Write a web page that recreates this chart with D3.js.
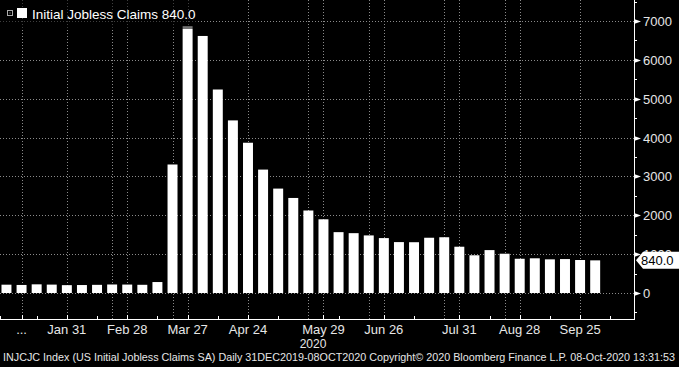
<!DOCTYPE html>
<html>
<head>
<meta charset="utf-8">
<script src="https://d3js.org/d3.v7.min.js"></script>
<style>
  html, body { margin: 0; padding: 0; background: #000; }
  svg { display: block; font-family: "Liberation Sans", Arial, sans-serif; }
  .grid line { stroke: #8a8a8a; stroke-width: 1; stroke-dasharray: 1,2; }
  .bar { fill: #fff; }
  .tick-label { fill: #e6e6e6; font-size: 13px; }
</style>
</head>
<body>
<div id="chart"></div>
<script>
// weekly claims, thousands (week dates as Bloomberg stamps them)
var weekDates = ["2020-01-03","2020-01-10","2020-01-17","2020-01-24","2020-01-31",
  "2020-02-07","2020-02-14","2020-02-21","2020-02-28","2020-03-06","2020-03-13",
  "2020-03-20","2020-03-27","2020-04-03","2020-04-10","2020-04-17","2020-04-24",
  "2020-05-01","2020-05-08","2020-05-15","2020-05-22","2020-05-29","2020-06-05",
  "2020-06-12","2020-06-19","2020-06-26","2020-07-03","2020-07-10","2020-07-17",
  "2020-07-24","2020-07-31","2020-08-07","2020-08-14","2020-08-21","2020-08-28",
  "2020-09-04","2020-09-11","2020-09-18","2020-09-25","2020-10-02"];
var claims = [214, 207, 223, 216, 202, 205, 210, 219, 217, 211, 282,
  3307, 6867, 6615, 5237, 4442, 3867, 3176, 2687, 2446, 2123, 1897, 1566,
  1540, 1482, 1413, 1310, 1307, 1422, 1435, 1191, 971, 1104, 1011, 881,
  893, 866, 873, 849, 840];

var labelDates = ["2020-01-10","2020-01-31","2020-02-28","2020-03-27","2020-04-24",
  "2020-05-29","2020-06-26","2020-07-31","2020-08-28","2020-09-25"];
var labelTexts = ["...","Jan 31","Feb 28","Mar 27","Apr 24","May 29","Jun 26","Jul 31","Aug 28","Sep 25"];
var gridDates = ["2020-01-10","2020-01-31","2020-02-21","2020-02-28","2020-03-20","2020-03-27",
  "2020-04-24","2020-05-22","2020-05-29","2020-06-19","2020-06-26","2020-07-24","2020-07-31",
  "2020-08-21","2020-08-28","2020-09-25"];
var minorDates = ["2019-12-31","2020-01-17","2020-02-14","2020-03-13","2020-04-10","2020-05-08",
  "2020-06-05","2020-07-10","2020-08-14","2020-09-11","2020-10-09"];
var yTicks = [0, 1000, 2000, 3000, 4000, 5000, 6000, 7000];
var yMinor = [-500, 500, 1500, 2500, 3500, 4500, 5500, 6500, 7500];
var lastValue = 840.0;

var parse = d3.timeParse("%Y-%m-%d");
var data = weekDates.map(function(d, i) { return {date: parse(d), y: claims[i]}; });

var W = 679, H = 367;
var axisX = 634, axisY = 319;

var x = d3.scaleTime()
    .domain([parse("2019-12-31"), parse("2020-10-20")])
    .range([0, axisX]);
var y = d3.scaleLinear()
    .domain([0, 7000])
    .range([293, 21]);

var svg = d3.select("#chart").append("svg")
    .attr("width", W)
    .attr("height", H);

svg.append("rect").attr("width", W).attr("height", H).attr("fill", "#000");

// grid
var grid = svg.append("g").attr("class", "grid");
grid.selectAll(".hg")
    .data(yTicks)
    .enter().append("line")
    .attr("x1", 0).attr("x2", axisX)
    .attr("y1", function(d) { return Math.round(y(d)) + 0.5; })
    .attr("y2", function(d) { return Math.round(y(d)) + 0.5; });
grid.selectAll(".vg")
    .data(gridDates)
    .enter().append("line")
    .attr("x1", function(d) { return Math.round(x(parse(d))) + 0.5; })
    .attr("x2", function(d) { return Math.round(x(parse(d))) + 0.5; })
    .attr("y1", 0).attr("y2", axisY);

// bars
var halfWeek = 3.5 * 0.66 * 864e5;
svg.selectAll(".bar")
    .data(data)
    .enter().append("rect")
    .attr("class", "bar")
    .attr("x", function(d) { return x(new Date(+d.date - halfWeek)); })
    .attr("width", function(d) { return x(new Date(+d.date + halfWeek)) - x(new Date(+d.date - halfWeek)); })
    .attr("y", function(d) { return y(d.y); })
    .attr("height", function(d) { return y(0) - y(d.y); });

// axes
var axes = svg.append("g").attr("stroke", "#fff").attr("fill", "none");
axes.append("line").attr("x1", axisX + 0.5).attr("x2", axisX + 0.5).attr("y1", 0).attr("y2", axisY + 0.5);
axes.append("line").attr("x1", 0).attr("x2", axisX + 1).attr("y1", axisY + 0.5).attr("y2", axisY + 0.5);

// x ticks
axes.selectAll(".xt")
    .data(labelDates)
    .enter().append("line")
    .attr("x1", function(d) { return Math.round(x(parse(d))) + 0.5; })
    .attr("x2", function(d) { return Math.round(x(parse(d))) + 0.5; })
    .attr("y1", axisY).attr("y2", axisY - 4);
axes.selectAll(".xm")
    .data(minorDates)
    .enter().append("line")
    .attr("x1", function(d) { return Math.round(x(parse(d))) + 0.5; })
    .attr("x2", function(d) { return Math.round(x(parse(d))) + 0.5; })
    .attr("y1", axisY).attr("y2", axisY - 3);

svg.selectAll(".xl")
    .data(labelDates)
    .enter().append("text")
    .attr("class", "tick-label")
    .attr("x", function(d) { return x(parse(d)); })
    .attr("y", 334)
    .attr("text-anchor", "middle")
    .text(function(d, i) { return labelTexts[i]; });

svg.append("text")
    .attr("class", "tick-label")
    .attr("x", 313).attr("y", 348)
    .attr("text-anchor", "middle")
    .style("font-size", "12px")
    .text("2020");

// y ticks
axes.selectAll(".ym")
    .data(yMinor)
    .enter().append("line")
    .attr("x1", axisX).attr("x2", axisX + 3)
    .attr("y1", function(d) { return Math.round(y(d)) + 0.5; })
    .attr("y2", function(d) { return Math.round(y(d)) + 0.5; });
svg.selectAll(".ytri")
    .data(yTicks)
    .enter().append("path")
    .attr("fill", "#fff")
    .attr("d", function(d) {
      var yy = Math.round(y(d)) + 0.5;
      return "M" + axisX + "," + (yy - 2.5) + "L" + (axisX + 7) + "," + yy + "L" + axisX + "," + (yy + 2.5) + "Z";
    });
svg.selectAll(".yl")
    .data(yTicks)
    .enter().append("text")
    .attr("class", "tick-label")
    .attr("x", 643)
    .attr("y", function(d) { return y(d) + 5; })
    .text(function(d) { return d; });

// last value tag
var ly = y(lastValue);
svg.append("path")
    .attr("fill", "#fff")
    .attr("d", "M" + (axisX + 2) + "," + ly + "L" + (axisX + 9) + "," + (ly - 8.5) + "L679," + (ly - 8.5) +
      "L679," + (ly + 8.5) + "L" + (axisX + 9) + "," + (ly + 8.5) + "Z");
svg.append("text")
    .attr("x", 641).attr("y", ly + 5)
    .attr("fill", "#000")
    .style("font-size", "13px")
    .text(d3.format(".1f")(lastValue));

// legend
svg.append("rect")
    .attr("x", 0).attr("y", 0).attr("width", 196).attr("height", 29)
    .attr("fill", "#000").attr("fill-opacity", 0.55);
svg.append("rect")
    .attr("x", 7.5).attr("y", 10.5).attr("width", 5).attr("height", 5)
    .attr("fill", "none").attr("stroke", "#aaa");
svg.append("rect")
    .attr("x", 9.5).attr("y", 12.5).attr("width", 1).attr("height", 1)
    .attr("fill", "#aaa");
svg.append("rect")
    .attr("x", 17).attr("y", 8).attr("width", 10).attr("height", 10)
    .attr("fill", "#fff");
svg.append("text")
    .attr("x", 32).attr("y", 19)
    .attr("fill", "#fff")
    .style("font-size", "13.5px")
    .text("Initial Jobless Claims " + d3.format(".1f")(lastValue));

// footer
svg.append("text")
    .attr("x", 3).attr("y", 361)
    .attr("fill", "#e6e6e6")
    .style("font-size", "11px")
    .attr("textLength", 672)
    .attr("lengthAdjust", "spacingAndGlyphs")
    .text("INJCJC Index (US Initial Jobless Claims SA)  Daily 31DEC2019-08OCT2020 Copyright\u00a9 2020 Bloomberg Finance L.P. 08-Oct-2020 13:31:53");
</script>
</body>
</html>
